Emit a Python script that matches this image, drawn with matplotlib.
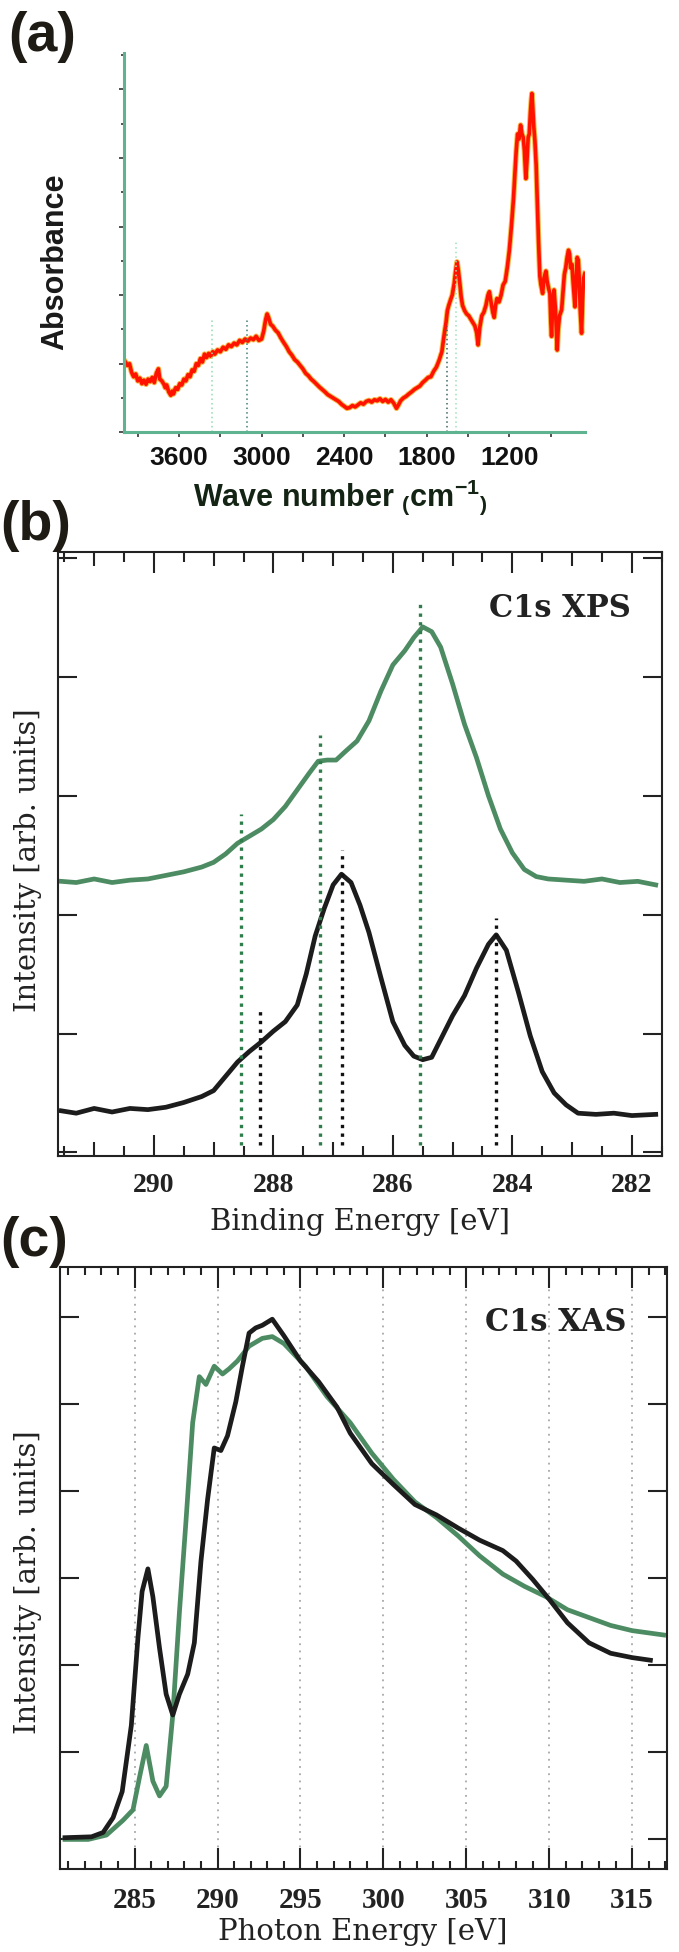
import matplotlib
matplotlib.use("Agg")
import matplotlib.pyplot as plt
from matplotlib.ticker import MultipleLocator, FormatStrFormatter, NullFormatter

# ---------------- data: (a) FTIR ----------------
ir_wn = [3990, 3975, 3960, 3945, 3930, 3915, 3900, 3885, 3870, 3855, 3840, 3825, 3810, 3795,
         3780, 3765, 3750, 3740, 3725, 3710, 3700, 3690, 3675, 3660, 3650, 3640, 3625, 3610,
         3595, 3580, 3565, 3550, 3535, 3520, 3505, 3490, 3475, 3460, 3445, 3430, 3415, 3400,
         3385, 3370, 3355, 3340, 3320, 3300, 3280, 3260, 3240, 3220, 3200, 3180, 3160, 3140,
         3120, 3100, 3080, 3060, 3040, 3020, 3000, 2985, 2970, 2960, 2950, 2935, 2920, 2900,
         2880, 2860, 2840, 2820, 2800, 2780, 2760, 2740, 2720, 2700, 2680, 2660, 2640, 2620,
         2600, 2580, 2560, 2540, 2520, 2500, 2480, 2460, 2440, 2420, 2400, 2380, 2360, 2340,
         2320, 2300, 2280, 2260, 2240, 2220, 2200, 2180, 2160, 2140, 2120, 2100, 2080, 2060,
         2040, 2020, 2005, 1990, 1970, 1950, 1930, 1910, 1890, 1870, 1850, 1830, 1810, 1790,
         1770, 1750, 1730, 1710, 1690, 1675, 1660, 1650, 1640, 1628, 1615, 1600, 1590, 1580,
         1570, 1560, 1550, 1540, 1525, 1510, 1495, 1480, 1465, 1450, 1437, 1427, 1415, 1400,
         1385, 1370, 1355, 1345, 1335, 1320, 1310, 1300, 1290, 1275, 1260, 1245, 1230, 1215,
         1200, 1185, 1170, 1160, 1150, 1140, 1130, 1118, 1108, 1099, 1090, 1080, 1072, 1063,
         1055, 1047, 1040, 1036, 1030, 1022, 1014, 1005, 997, 988, 978, 970, 958, 948, 934,
         925, 915, 905, 898, 893, 885, 875, 865, 852, 845, 835, 820, 810, 800, 790, 780, 770,
         762, 755, 745, 735, 723, 715, 707, 699, 692, 685, 675, 668, 660, 651]
ir_abs = [2.05, 1.95, 2.00, 1.75, 1.62, 1.70, 1.50, 1.58, 1.42, 1.52, 1.40, 1.55, 1.48, 1.60,
          1.45, 1.72, 1.85, 1.55, 1.50, 1.40, 1.30, 1.38, 1.18, 1.08, 1.20, 1.12, 1.30, 1.25,
          1.42, 1.38, 1.55, 1.50, 1.68, 1.62, 1.82, 1.78, 2.00, 1.95, 2.15, 2.05, 2.28, 2.18,
          2.30, 2.22, 2.35, 2.28, 2.40, 2.35, 2.48, 2.42, 2.55, 2.50, 2.60, 2.55, 2.68, 2.62,
          2.72, 2.66, 2.75, 2.70, 2.80, 2.68, 2.72, 2.95, 3.30, 3.45, 3.35, 3.15, 3.10, 2.98,
          2.90, 2.75, 2.62, 2.50, 2.35, 2.25, 2.12, 2.05, 1.95, 1.85, 1.72, 1.65, 1.55, 1.48,
          1.40, 1.32, 1.25, 1.18, 1.10, 1.05, 1.00, 0.95, 0.90, 0.82, 0.76, 0.70, 0.72, 0.78,
          0.74, 0.80, 0.86, 0.82, 0.90, 0.93, 0.88, 0.95, 0.92, 0.98, 0.90, 0.96, 0.88, 0.95,
          0.85, 0.70, 0.80, 0.92, 1.00, 1.05, 1.12, 1.18, 1.25, 1.30, 1.35, 1.45, 1.52, 1.60,
          1.62, 1.78, 1.90, 2.10, 2.35, 2.80, 3.20, 3.55, 3.70, 3.85, 4.00, 4.35, 4.70, 4.97,
          4.70, 4.35, 3.95, 3.70, 3.55, 3.45, 3.40, 3.30, 3.20, 3.10, 2.90, 2.55, 3.05, 3.40,
          3.50, 3.70, 4.00, 4.10, 3.85, 3.50, 3.35, 3.70, 3.90, 3.80, 4.00, 4.30, 4.40, 4.80,
          5.30, 6.00, 6.80, 7.50, 8.20, 8.70, 8.55, 8.96, 8.70, 8.60, 8.20, 7.40, 7.90, 8.60,
          8.70, 9.30, 9.70, 9.88, 9.50, 8.90, 8.50, 7.80, 6.80, 5.60, 4.55, 4.30, 4.05, 4.50, 4.70,
          4.40, 4.20, 4.05, 3.20, 2.80, 3.70, 4.15, 3.60, 2.40, 3.00, 3.40, 3.57, 4.10, 4.60, 4.80, 5.10, 5.31,
          5.20, 4.80, 4.90, 4.30, 3.66, 4.40, 5.10, 5.02, 4.50, 3.60, 2.89, 3.80, 4.50, 4.63]
ir_marks = [3362, 3108, 1655, 1590]
ir_mark_tops = [3.27, 3.29, 3.10, 5.62]
ir_mark_colors = ["#8fdcae", "#3f7f78", "#3d6660", "#9ce3b8"]
ir_ticks = [3600, 3000, 2400, 1800, 1200]

# ---------------- data: (b) C1s XPS ----------------
xps_e_green = [291.55, 291.3, 291.0, 290.7, 290.4, 290.1, 289.8, 289.5, 289.2, 289.0, 288.8,
               288.6, 288.4, 288.2, 288.0, 287.8, 287.6, 287.4, 287.25, 287.1, 286.95, 286.8,
               286.6, 286.4, 286.2, 286.0, 285.8, 285.65, 285.5, 285.35, 285.2, 285.0, 284.8,
               284.6, 284.4, 284.2, 284.0, 283.8, 283.6, 283.4, 283.1, 282.8, 282.5, 282.2,
               281.9, 281.6]
xps_i_green = [2.28, 2.27, 2.30, 2.27, 2.29, 2.30, 2.33, 2.36, 2.40, 2.44, 2.51,
               2.60, 2.66, 2.72, 2.80, 2.91, 3.05, 3.19, 3.29, 3.30, 3.30, 3.37,
               3.46, 3.63, 3.88, 4.10, 4.22, 4.33, 4.42, 4.38, 4.25, 3.94, 3.60,
               3.32, 3.00, 2.72, 2.52, 2.38, 2.32, 2.30, 2.29, 2.28, 2.30, 2.27,
               2.28, 2.25]
xps_e_black = [291.55, 291.3, 291.0, 290.7, 290.4, 290.1, 289.8, 289.5, 289.2, 289.0, 288.8,
               288.6, 288.4, 288.2, 288.0, 287.8, 287.6, 287.45, 287.3, 287.15, 287.0, 286.86,
               286.7, 286.55, 286.4, 286.2, 286.0, 285.8, 285.65, 285.5, 285.35, 285.2, 285.0,
               284.8, 284.6, 284.4, 284.27, 284.1, 283.9, 283.7, 283.5, 283.3, 283.1, 282.9,
               282.6, 282.3, 282.0, 281.6]
xps_i_black = [0.35, 0.33, 0.37, 0.34, 0.37, 0.36, 0.38, 0.42, 0.47, 0.52, 0.64,
               0.76, 0.85, 0.93, 1.02, 1.10, 1.24, 1.50, 1.82, 2.05, 2.25, 2.34,
               2.27, 2.08, 1.85, 1.47, 1.10, 0.90, 0.81, 0.78, 0.80, 0.95, 1.15,
               1.32, 1.55, 1.75, 1.83, 1.70, 1.35, 0.98, 0.68, 0.50, 0.40, 0.33,
               0.32, 0.33, 0.31, 0.32]
xps_marks_green = [288.55, 287.22, 285.55]
xps_tops_green = [2.85, 3.51, 4.62]
xps_marks_black = [288.23, 286.85, 284.27]
xps_tops_black = [1.21, 2.54, 1.97]

# ---------------- data: (c) C1s XAS ----------------
xas_e_black = [280.8, 282.4, 283.1, 283.7, 284.25, 284.8, 285.2, 285.45, 285.8, 286.1, 286.5,
               286.9, 287.3, 287.7, 288.2, 288.6, 289.0, 289.4, 289.8, 290.2, 290.6, 291.1,
               291.5, 291.9, 292.3, 292.7, 293.3, 294.0, 295.0, 296.1, 297.2, 298.0, 299.3,
               300.6, 301.9, 303.2, 304.5, 305.8, 307.2, 308.0, 309.0, 310.0, 311.1, 312.4,
               313.7, 315.0, 316.1]
xas_i_black = [0.02, 0.03, 0.08, 0.25, 0.55, 1.31, 2.32, 2.85, 3.11, 2.79, 2.20,
               1.67, 1.43, 1.67, 1.90, 2.26, 3.20, 3.91, 4.50, 4.47, 4.64, 5.03,
               5.44, 5.82, 5.88, 5.91, 5.98, 5.79, 5.50, 5.26, 4.97, 4.67, 4.32,
               4.08, 3.85, 3.73, 3.58, 3.44, 3.32, 3.20, 2.99, 2.76, 2.49, 2.26,
               2.14, 2.09, 2.06]
xas_e_green = [280.8, 282.2, 283.3, 284.3, 284.9, 285.3, 285.7, 286.1, 286.5, 286.9, 287.3,
               287.7, 288.1, 288.5, 288.9, 289.3, 289.8, 290.3, 290.7, 291.2, 291.9, 292.7,
               293.3, 294.0, 295.3, 296.6, 298.0, 299.3, 300.6, 301.9, 303.2, 304.5, 305.8,
               307.2, 308.5, 309.8, 311.1, 312.4, 313.7, 315.0, 316.9]
xas_i_green = [0.00, 0.00, 0.05, 0.22, 0.34, 0.72, 1.08, 0.67, 0.50, 0.61, 1.43,
               2.61, 3.67, 4.79, 5.32, 5.23, 5.44, 5.35, 5.41, 5.50, 5.67, 5.76,
               5.78, 5.70, 5.44, 5.09, 4.79, 4.44, 4.14, 3.88, 3.70, 3.49, 3.26,
               3.05, 2.91, 2.79, 2.64, 2.55, 2.46, 2.40, 2.35]

GREEN = "#4d8c63"
DARK = "#1c1c1c"
SANS = "Liberation Sans"
SERIF = "DejaVu Serif"
TSERIF = "Liberation Serif"

plt.rcParams["mathtext.fontset"] = "custom"
plt.rcParams["mathtext.rm"] = "Liberation Sans:bold"
plt.rcParams["mathtext.bf"] = "Liberation Sans:bold"

fig = plt.figure(figsize=(6.79, 19.52), dpi=100)

# ===== (a) =====
ax1 = fig.add_axes([0.18262, 0.77853, 0.67894, 0.19431])
ax1.plot(ir_wn, ir_abs, color="#f8b84a", lw=4.0, solid_joinstyle="round")
ax1.plot(ir_wn, ir_abs, color="#ff1200", lw=2.6, solid_joinstyle="round")
for w, top, c in zip(ir_marks, ir_mark_tops, ir_mark_colors):
    ax1.plot([w, w], [0, top], color=c, lw=1.1, linestyle=(0, (1, 2)))
ax1.set_xlim(4000, 650)
ax1.set_ylim(0, 11.06)
for s in ["top", "right"]:
    ax1.spines[s].set_visible(False)
for s in ["left", "bottom"]:
    ax1.spines[s].set_color("#5fb391")
    ax1.spines[s].set_linewidth(2.2)
ax1.set_xticks(ir_ticks)
ax1.set_xticks([3900, 3300, 2700, 2100, 1500, 900], minor=True)
ax1.yaxis.set_major_locator(MultipleLocator(2))
ax1.yaxis.set_minor_locator(MultipleLocator(1))
ax1.yaxis.set_major_formatter(NullFormatter())
ax1.tick_params(axis="x", which="both", direction="out", length=3.5, width=1.2,
                color="#333333", pad=6)
ax1.tick_params(axis="y", which="major", direction="out", length=3.8, width=1.2, color="#333333")
ax1.tick_params(axis="y", which="minor", direction="out", length=2.0, width=1.2, color="#333333")
for lab in ax1.get_xticklabels():
    lab.set_fontfamily(SANS)
    lab.set_fontweight("bold")
    lab.set_fontsize(19)
    lab.set_color("#111111")
ax1.set_ylabel("Absorbance", fontfamily=SANS, fontweight="bold", fontsize=22, color="#1a1a1a")
ax1.yaxis.set_label_coords(-0.116, 0.449)
ax1.set_xlabel(r"Wave number $_\mathbf{(}$cm$^\mathbf{-1}$$_\mathbf{)}$", fontfamily=SANS,
               fontweight="bold", fontsize=22, color="#142414")
ax1.xaxis.set_label_coords(0.469, -0.171)
ax1.xaxis.label.set_va("center")

fig.text(8 / 679, 1 - 37 / 1952, "(a)", fontfamily=SANS, fontweight="bold", fontsize=40,
         color="#1e1a14", va="center", ha="left")


def style_box(ax):
    for s in ax.spines.values():
        s.set_linewidth(1.5)
        s.set_color("#222222")


def medium_ticks(ax, size):
    locs = ax.xaxis.get_minorticklocs()
    ticks = ax.xaxis.get_minor_ticks(len(locs))
    for loc, t in zip(locs, ticks):
        if abs(loc - round(loc)) < 1e-6:
            t.tick1line.set_markersize(size)
            t.tick2line.set_markersize(size)


# ===== (b) =====
ax2 = fig.add_axes([0.08586, 0.40779, 0.88866, 0.30943])
ax2.plot(xps_e_green, xps_i_green, color=GREEN, lw=3.4)
ax2.plot(xps_e_black, xps_i_black, color=DARK, lw=3.4)
for e, top in zip(xps_marks_green, xps_tops_green):
    ax2.plot([e, e], [0.06, top], color="#2f7d4a", lw=2.4, linestyle=(0, (1, 1.6)))
for e, top in zip(xps_marks_black, xps_tops_black):
    ax2.plot([e, e], [0.06, top], color="#111111", lw=2.4, linestyle=(0, (1, 1.6)))
ax2.set_xlim(291.6, 281.5)
ax2.set_ylim(-0.03, 5.05)
style_box(ax2)
ax2.xaxis.set_major_locator(MultipleLocator(2))
ax2.xaxis.set_minor_locator(MultipleLocator(0.5))
ax2.xaxis.set_major_formatter(FormatStrFormatter("%d"))
ax2.yaxis.set_major_locator(MultipleLocator(1))
ax2.yaxis.set_major_formatter(NullFormatter())
ax2.tick_params(axis="x", which="major", direction="in", length=15, width=1.5, top=True,
                bottom=True, pad=12, labelsize=20, colors="#222222")
ax2.tick_params(axis="x", which="minor", direction="in", length=7, width=1.5, top=True,
                bottom=True, colors="#222222")
ax2.tick_params(axis="y", which="major", direction="in", length=14, width=1.5, left=True,
                right=True, colors="#222222")
medium_ticks(ax2, 10)
for lab in ax2.get_xticklabels():
    lab.set_fontfamily(TSERIF)
    lab.set_fontweight("bold")
ax2.set_xlabel("Binding Energy [eV]", fontfamily=SERIF, fontsize=21, color="#222222")
ax2.xaxis.set_label_coords(0.5, -0.109)
ax2.xaxis.label.set_va("center")
ax2.set_ylabel("Intensity [arb. units]", fontfamily=SERIF, fontsize=21, color="#222222")
ax2.yaxis.set_label_coords(-0.050, 0.49)
ax2.yaxis.label.set_va("center")
ax2.text(0.831, 0.907, "C1s XPS", transform=ax2.transAxes, fontfamily=SERIF,
         fontweight="bold", fontsize=22, color="#222222", ha="center", va="center")

fig.text(0 / 679, 1 - 526 / 1952, "(b)", fontfamily=SANS, fontweight="bold", fontsize=40,
         color="#1e1a14", va="center", ha="left")

# ===== (c) =====
ax3 = fig.add_axes([0.08837, 0.04252, 0.89396, 0.30840])
ax3.plot(xas_e_green, xas_i_green, color=GREEN, lw=3.4)
ax3.plot(xas_e_black, xas_i_black, color=DARK, lw=3.4)
ax3.set_xlim(280.5, 317.1)
ax3.set_ylim(-0.34, 6.58)
style_box(ax3)
ax3.xaxis.set_major_locator(MultipleLocator(5))
ax3.xaxis.set_minor_locator(MultipleLocator(1))
ax3.yaxis.set_major_locator(MultipleLocator(1))
ax3.yaxis.set_major_formatter(NullFormatter())
ax3.grid(axis="x", which="major", color="#a8a8a8", lw=1.3, linestyle=(0, (1, 3)))
ax3.tick_params(axis="x", which="major", direction="in", length=15, width=1.5, top=True,
                bottom=True, pad=13, labelsize=21, colors="#222222")
ax3.tick_params(axis="x", which="minor", direction="in", length=6, width=1.5, top=True,
                bottom=True, colors="#222222")
ax3.tick_params(axis="y", which="major", direction="in", length=14, width=1.5, left=True,
                right=True, colors="#222222")
for lab in ax3.get_xticklabels():
    lab.set_fontfamily(TSERIF)
    lab.set_fontweight("bold")
ax3.set_xlabel("Photon Energy [eV]", fontfamily=SERIF, fontsize=21, color="#222222")
ax3.xaxis.set_label_coords(0.499, -0.105)
ax3.xaxis.label.set_va("center")
ax3.set_ylabel("Intensity [arb. units]", fontfamily=SERIF, fontsize=21, color="#222222")
ax3.yaxis.set_label_coords(-0.053, 0.476)
ax3.yaxis.label.set_va("center")
ax3.text(0.817, 0.907, "C1s XAS", transform=ax3.transAxes, fontfamily=SERIF,
         fontweight="bold", fontsize=22, color="#222222", ha="center", va="center")

fig.text(0 / 679, 1 - 1242 / 1952, "(c)", fontfamily=SANS, fontweight="bold", fontsize=40,
         color="#1e1a14", va="center", ha="left")

fig.savefig("out.png", dpi=100)
